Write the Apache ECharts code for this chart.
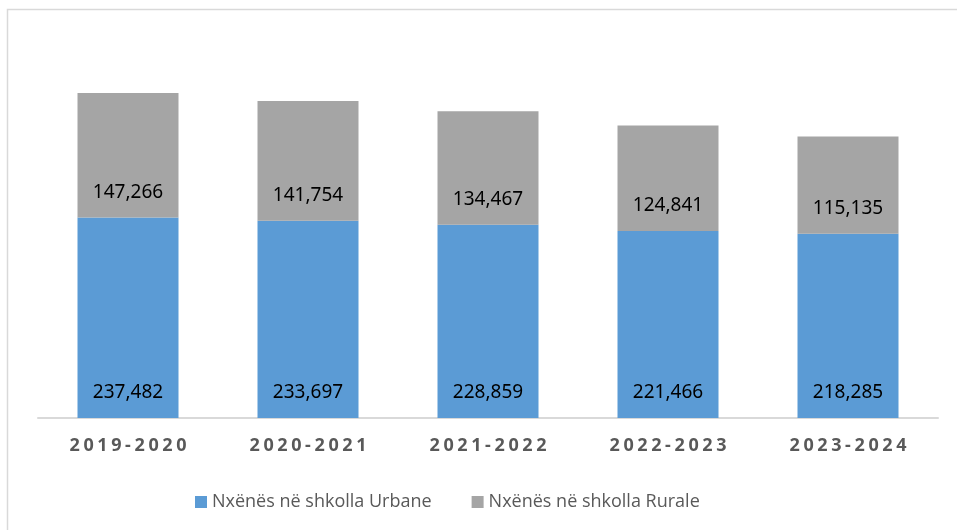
<!DOCTYPE html>
<html>
<head>
<meta charset="utf-8">
<script src="https://cdn.jsdelivr.net/npm/echarts@6/dist/echarts.min.js"></script>
<style>html,body{margin:0;padding:0;background:#fff}#c{width:957px;height:530px}</style>
</head>
<body>
<div id="c"></div>
<script>
var categories = ['2019-2020', '2020-2021', '2021-2022', '2022-2023', '2023-2024'];
var urbanName = 'Nxënës në shkolla Urbane';
var ruralName = 'Nxënës në shkolla Rurale';
var urbanValues = [237482, 233697, 228859, 221466, 218285];
var ruralValues = [147266, 141754, 134467, 124841, 115135];

var chart = echarts.init(document.getElementById('c'), null, {renderer: 'canvas'});
function fmt(p) { return p.value.toLocaleString('en-US'); }
var labelStyle = {
  show: true, position: 'insideBottom', distance: 15, formatter: fmt,
  color: '#000', fontFamily: 'Noto Sans', fontSize: 19, lineHeight: 20
};
chart.setOption({
  animation: false,
  graphic: [{
    type: 'rect', z: -1, silent: true,
    shape: {x: 7.5, y: 9.5, width: 960, height: 540},
    style: {fill: 'none', stroke: '#D9D9D9', lineWidth: 1.5}
  }],
  grid: {left: 38, right: 19, top: 38, bottom: 112},
  legend: {
    left: 190, top: 487, icon: 'rect', itemWidth: 12, itemHeight: 12, itemGap: 40, itemStyle: {borderWidth: 0},
    textStyle: {color: '#595959', fontFamily: 'Open Sans', fontSize: 18, lineHeight: 20},
    data: [urbanName, ruralName]
  },
  xAxis: {
    type: 'category', data: categories,
    axisLine: {lineStyle: {color: '#D9D9D9', width: 2}},
    axisTick: {show: false},
    axisLabel: {
      margin: 18, interval: 0,
      formatter: function (v) {
        return v.split('').map(function (ch) { return '{c|' + ch + '}'; }).join('');
      },
      rich: {
        c: {color: '#595959', fontFamily: 'Noto Sans', fontWeight: 'bold', fontSize: 18, lineHeight: 20, padding: [0, 1.8, 0, 1.8]}
      }
    }
  },
  yAxis: {type: 'value', show: false, min: 0, max: 450000, splitLine: {show: false}},
  series: [
    {
      name: urbanName, type: 'bar', stack: 'total', barWidth: 101,
      itemStyle: {color: '#5B9BD5'},
      label: labelStyle,
      data: urbanValues
    },
    {
      name: ruralName, type: 'bar', stack: 'total', barWidth: 101,
      itemStyle: {color: '#A5A5A5'},
      label: labelStyle,
      data: ruralValues
    }
  ]
});
</script>
</body>
</html>
